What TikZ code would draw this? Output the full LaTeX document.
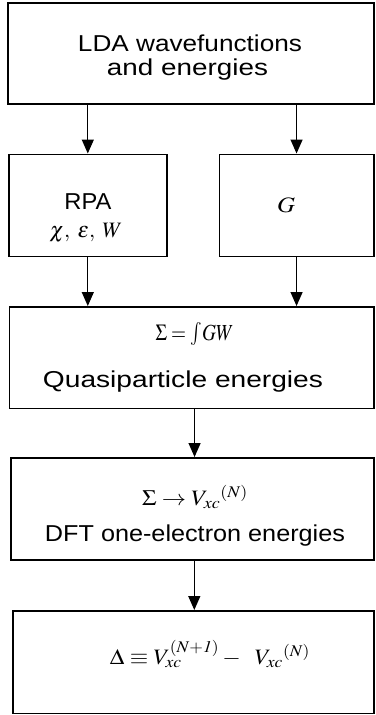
\documentclass[tikz,border=0pt]{standalone}
\usepackage{mathptmx}
\usepackage[no-math]{fontspec}
\setmainfont{Liberation Sans}
\usepackage{graphicx}
\usetikzlibrary{arrows.meta}
\newcommand\fw[2]{\resizebox{#1}{\height}{#2}}
\begin{document}
\begin{tikzpicture}[x=1pt,y=1pt,
  box/.style={draw, line width=1.6pt, inner sep=0pt, anchor=north west},
  lbl/.style={anchor=base, inner sep=0pt, font=\fontsize{23}{27}\selectfont},
  mth/.style={anchor=base, inner sep=0pt, font=\fontsize{22}{26}\selectfont},
  arr/.style={line width=1.3pt, -{Triangle[width=12pt,length=14pt]}}]
\useasboundingbox (0,0) rectangle (375,-715);
% boxes
\node[box, minimum width=366pt, minimum height=101pt] (lda) at (7,-2) {};
\node[box, minimum width=158pt, minimum height=102pt] (rpa) at (8,-153.5) {};
\node[box, minimum width=154.5pt, minimum height=102pt] (g) at (218.5,-153.5) {};
\node[box, minimum width=364.5pt, minimum height=101.5pt] (sig) at (8.5,-306) {};
\node[box, minimum width=363pt, minimum height=102pt] (dft) at (10,-457) {};
\node[box, minimum width=361pt, minimum height=102.5pt] (del) at (12,-610) {};
% texts
\node[lbl] (t1) at (190,-51.7) {\fw{224pt}{LDA wavefunctions}};
\node[lbl] (t2) at (187.5,-75) {\fw{161pt}{and energies}};
\node[lbl] (t3) at (88,-209) {\fw{47pt}{RPA}};
\node[mth] (t4) at (86,-237) {$\chi,\;\varepsilon,\;W$};
\node[mth, font=\fontsize{23}{27}\selectfont] (t6) at (194.5,-340) {\fw{78pt}{$\Sigma\;{=}\;{\int}GW$}};
\node[mth] (t5) at (286,-212) {\fw{18pt}{$G$}};
\node[lbl] (t7) at (183,-387) {\fw{280pt}{Quasiparticle energies}};
\node[mth] (t8) at (195,-505) {\fw{106pt}{$\Sigma \rightarrow V_{xc}{}^{(N)}$}};
\node[lbl] (t9) at (195,-541.7) {\fw{300pt}{DFT one-electron energies}};
\node[mth] (t10) at (210,-664) {\fw{200pt}{$\Delta \equiv V_{xc}^{(N+\mathit{1})} - \;\; V_{xc}{}^{(N)}$}};
% arrows
\draw[arr] (lda.south -| rpa.north) -- (rpa.north);
\draw[arr] (lda.south -| g.north) -- (g.north);
\draw[arr] (rpa.south) -- (rpa.south |- sig.north);
\draw[arr] (g.south) -- (g.south |- sig.north);
\draw[arr] ([xshift=3pt]sig.south) -- ([xshift=3pt]sig.south |- dft.north);
\draw[arr] ([xshift=2pt]dft.south) -- ([xshift=2pt]dft.south |- del.north);
\end{tikzpicture}
\end{document}
